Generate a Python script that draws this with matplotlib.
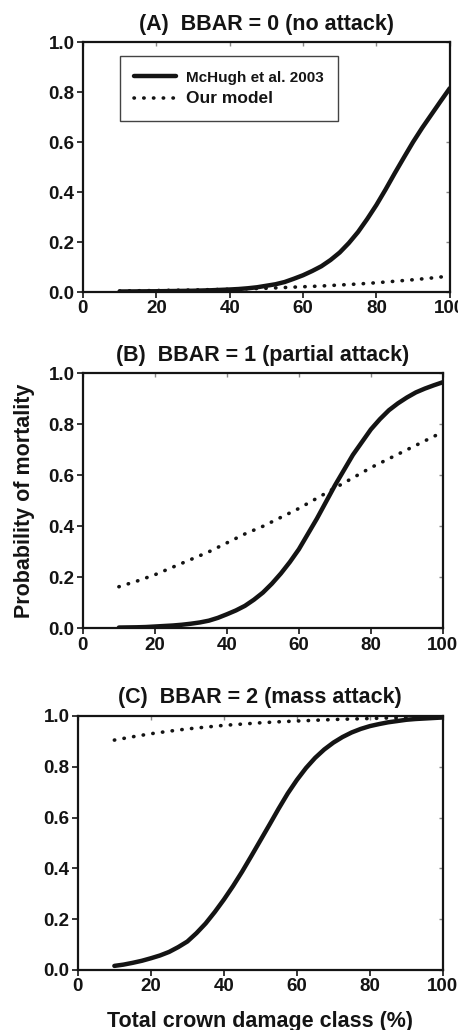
import matplotlib.pyplot as plt

plt.rcParams['font.family'] = ['Liberation Sans', 'DejaVu Sans']
plt.rcParams['font.weight'] = 'bold'

# crown damage classes (%)
damage_fine = [10, 12.5, 15, 17.5, 20, 22.5, 25, 27.5, 30, 32.5, 35, 37.5, 40, 42.5, 45, 47.5,
               50, 52.5, 55, 57.5, 60, 62.5, 65, 67.5, 70, 72.5, 75, 77.5, 80, 82.5, 85, 87.5,
               90, 92.5, 95, 97.5, 100]
damage = [10, 15, 20, 25, 30, 35, 40, 45, 50, 55, 60, 65, 70, 75, 80, 85, 90, 95, 100]

# (A) BBAR = 0
mchugh_a = [0.002, 0.0022, 0.0025, 0.0028, 0.003, 0.0035, 0.004, 0.0045, 0.005, 0.006, 0.007,
            0.0085, 0.010, 0.012, 0.015, 0.019, 0.025, 0.031, 0.040, 0.053, 0.067, 0.084, 0.103,
            0.128, 0.158, 0.196, 0.24, 0.292, 0.348, 0.41, 0.475, 0.538, 0.60, 0.657, 0.71, 0.763, 0.815]
model_a = [0.004, 0.005, 0.006, 0.007, 0.008, 0.0095, 0.011, 0.013, 0.015, 0.018,
           0.021, 0.024, 0.028, 0.032, 0.037, 0.043, 0.049, 0.056, 0.064]

# (B) BBAR = 1
mchugh_b = [0.003, 0.0035, 0.004, 0.005, 0.007, 0.009, 0.011, 0.014, 0.018, 0.023, 0.030,
            0.041, 0.055, 0.07, 0.088, 0.112, 0.14, 0.175, 0.215, 0.26, 0.31, 0.37, 0.43, 0.495,
            0.56, 0.62, 0.68, 0.73, 0.78, 0.82, 0.855, 0.882, 0.905, 0.925, 0.94, 0.953, 0.965]
model_b = [0.163, 0.185, 0.21, 0.24, 0.27, 0.30, 0.335, 0.37, 0.40, 0.435,
           0.47, 0.51, 0.55, 0.59, 0.63, 0.665, 0.70, 0.735, 0.77]

# (C) BBAR = 2
mchugh_c = [0.016, 0.021, 0.028, 0.036, 0.046, 0.057, 0.071, 0.09, 0.112, 0.145, 0.183, 0.228,
            0.277, 0.33, 0.387, 0.448, 0.51, 0.572, 0.635, 0.695, 0.748, 0.795, 0.835, 0.868,
            0.895, 0.917, 0.935, 0.949, 0.96, 0.968, 0.975, 0.98, 0.985, 0.988, 0.99, 0.992, 0.994]
model_c = [0.905, 0.918, 0.93, 0.94, 0.949, 0.956, 0.963, 0.968, 0.973, 0.977,
           0.98, 0.983, 0.986, 0.988, 0.99, 0.992, 0.993, 0.994, 0.995]

titles = ['(A)  BBAR = 0 (no attack)', '(B)  BBAR = 1 (partial attack)', '(C)  BBAR = 2 (mass attack)']
xticks = [0, 20, 40, 60, 80, 100]
yticks = [0.0, 0.2, 0.4, 0.6, 0.8, 1.0]

ink = '#141414'
fig = plt.figure(figsize=(4.58, 10.30), dpi=100)
boxes = [[0.181, 0.7165, 0.801, 0.2427],
         [0.181, 0.390, 0.786, 0.2476],
         [0.170, 0.0583, 0.797, 0.2466]]
series = [(mchugh_a, model_a), (mchugh_b, model_b), (mchugh_c, model_c)]

for i, (box, (solid, dotted)) in enumerate(zip(boxes, series)):
    ax = fig.add_axes(box)
    ax.plot(damage_fine, solid, color=ink, lw=3.2, solid_capstyle='round',
            solid_joinstyle='round', label='McHugh et al. 2003')
    ax.plot(damage, dotted, color=ink, lw=2.6, linestyle=(0, (0.1, 2.6)),
            dash_capstyle='round', label='Our model')
    ax.set_xlim(0, 100)
    ax.set_ylim(0, 1.0)
    ax.set_xticks(xticks)
    ax.set_yticks(yticks)
    ax.set_yticklabels(['%.1f' % v for v in yticks])
    ax.tick_params(direction='out', length=4, width=1.2, colors=ink, labelsize=13.5, pad=2)
    for s in ax.spines.values():
        s.set_linewidth(1.6)
        s.set_color(ink)
    top = ax.secondary_xaxis('top')
    top.set_xticks(xticks)
    top.tick_params(direction='in', length=3, width=1.0, colors='#888888', labeltop=False)
    top.spines['top'].set_visible(False)
    right = ax.secondary_yaxis('right')
    right.set_yticks(yticks)
    right.tick_params(direction='in', length=3, width=1.0, colors='#888888', labelright=False)
    right.spines['right'].set_visible(False)
    ax.set_title(titles[i], fontsize=15.5, fontweight='bold', color=ink, pad=9)
    if i == 0:
        leg = ax.legend(loc='upper left', bbox_to_anchor=(0.101, 0.944), frameon=True,
                        fancybox=False, edgecolor=ink, handlelength=2.75, borderpad=0.95,
                        labelspacing=0.45, handletextpad=0.6, borderaxespad=0,
                        prop={'size': 11, 'weight': 'bold'})
        leg.get_frame().set_linewidth(1.0)
        txts = leg.get_texts()
        txts[0].set_fontsize(11)
        txts[1].set_fontsize(12.5)
        for t in txts:
            t.set_color(ink)
    if i == 1:
        ax.set_ylabel('Probability of mortality', fontsize=15.5, fontweight='bold', color=ink, labelpad=10)
    if i == 2:
        ax.set_xlabel('Total crown damage class (%)', fontsize=15.5, fontweight='bold', color=ink, labelpad=11)

fig.savefig('out.png', dpi=100)
